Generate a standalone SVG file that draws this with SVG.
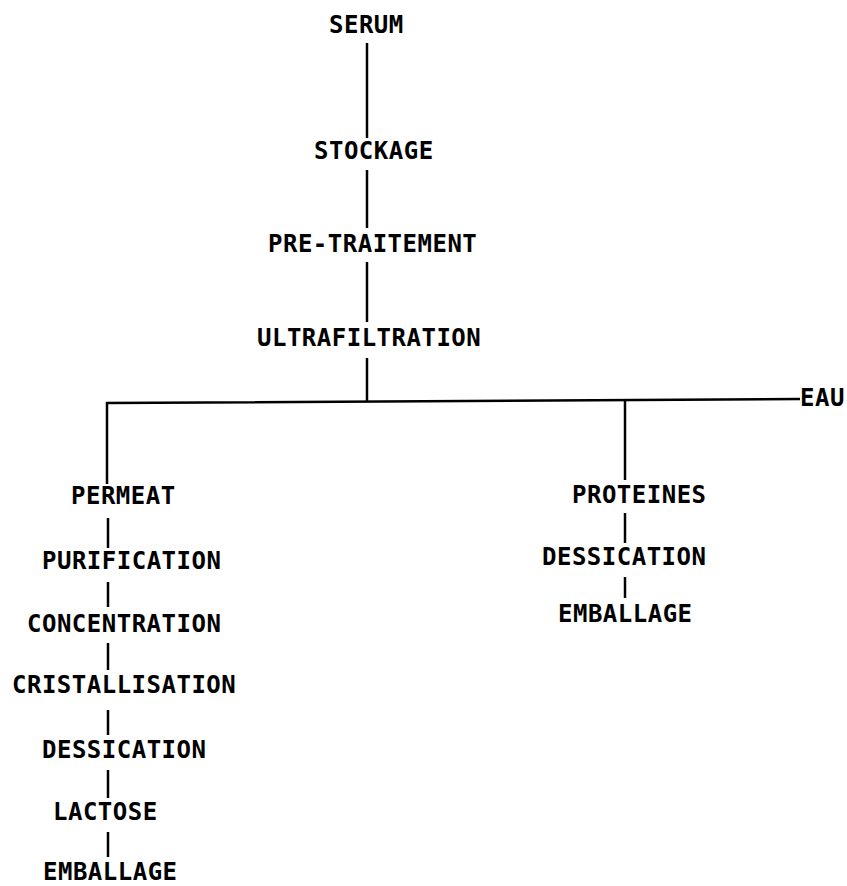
<svg xmlns="http://www.w3.org/2000/svg" width="847" height="886" viewBox="0 0 847 886">
<style>
text{font-family:"DejaVu Sans Mono","Liberation Mono",monospace;font-weight:bold;font-size:24px;letter-spacing:0.5px;fill:#000}
.c line,.c polyline{stroke:#000;stroke-width:2.5;fill:none}
</style>
<rect width="847" height="886" fill="#fff"/>
<g id="connectors" class="c">
<line x1="367" y1="43" x2="367" y2="138"/>
<line x1="367" y1="170" x2="367" y2="228"/>
<line x1="367" y1="262" x2="367" y2="322"/>
<line x1="367" y1="358" x2="367" y2="402"/>
<polyline points="107,484 107,403 800,399"/>
<line x1="625" y1="401" x2="625" y2="480"/>
<line x1="108" y1="518" x2="108" y2="548"/>
<line x1="108" y1="582" x2="108" y2="607"/>
<line x1="108" y1="643" x2="108" y2="670"/>
<line x1="108" y1="710" x2="108" y2="735"/>
<line x1="108" y1="770" x2="108" y2="798"/>
<line x1="108" y1="832" x2="108" y2="857"/>
<line x1="625" y1="513" x2="625" y2="543"/>
<line x1="625" y1="577" x2="625" y2="598"/>
</g>
<g id="serum"><text x="329" y="33">SERUM</text></g>
<g id="stockage"><text x="314" y="159">STOCKAGE</text></g>
<g id="pretraitement"><text x="268" y="252">PRE-TRAITEMENT</text></g>
<g id="ultrafiltration"><text x="257" y="346">ULTRAFILTRATION</text></g>
<g id="eau"><text x="800" y="406">EAU</text></g>
<g id="permeat"><text x="71" y="504">PERMEAT</text></g>
<g id="purification"><text x="42" y="569">PURIFICATION</text></g>
<g id="concentration"><text x="27" y="632">CONCENTRATION</text></g>
<g id="cristallisation"><text x="12" y="693">CRISTALLISATION</text></g>
<g id="dessication1"><text x="42" y="758">DESSICATION</text></g>
<g id="lactose"><text x="53" y="820">LACTOSE</text></g>
<g id="emballage1"><text x="43" y="880">EMBALLAGE</text></g>
<g id="proteines"><text x="572" y="503">PROTEINES</text></g>
<g id="dessication2"><text x="542" y="565">DESSICATION</text></g>
<g id="emballage2"><text x="558" y="622">EMBALLAGE</text></g>
</svg>
